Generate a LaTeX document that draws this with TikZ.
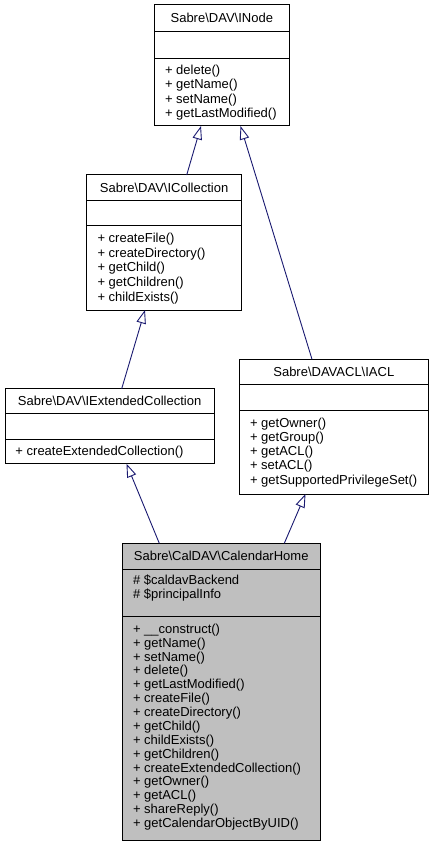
\documentclass[tikz,border=0pt]{standalone}
\usepackage{fontspec}
\setmainfont{Liberation Sans}
\usetikzlibrary{arrows.meta}
\definecolor{edgeblue}{HTML}{191970}
\definecolor{mainfill}{HTML}{BFBFBF}
\newcommand\boxlines[5]{% prefix, x, y0, step, list
  \foreach \t [count=\i from 0] in {#5} {
    \node[txt, anchor=base west] (#1\i) at (#2, #3+\i*#4) {\t};
  }}
\begin{document}
\begin{tikzpicture}[x=1pt,y=-1pt,
  box/.style={draw=black,line width=1pt,rectangle,inner sep=0pt,outer sep=0pt,anchor=north west},
  txt/.style={inner sep=0pt,outer sep=0pt,font=\fontsize{13}{14}\selectfont},
  sepline/.style={draw=black,line width=1pt},
  inh/.style={draw=edgeblue,line width=0.9pt,-{Triangle[open,length=13.5pt,width=9.5pt]}}]
\useasboundingbox (0,0) rectangle (434,845);

% INode
\node[box, minimum width=135pt, minimum height=121pt] (inode) at (154.3,5) {};
\draw[sepline] (inode.west |- 0,31.7) -- (inode.east |- 0,31.7);
\draw[sepline] (inode.west |- 0,58.3) -- (inode.east |- 0,58.3);
\node[txt, anchor=base] (inodet) at (221.8,22.7) {Sabre\textbackslash DAV\textbackslash INode};
\boxlines{inodeop}{165}{74.3}{14.4}{+ delete(), + getName(), + setName(), + getLastModified()}

% ICollection
\node[box, minimum width=154.8pt, minimum height=135pt] (icoll) at (86.7,175) {};
\draw[sepline] (icoll.west |- 0,200.7) -- (icoll.east |- 0,200.7);
\draw[sepline] (icoll.west |- 0,225.7) -- (icoll.east |- 0,225.7);
\node[txt, anchor=base] (icollt) at (164.1,192) {Sabre\textbackslash DAV\textbackslash ICollection};
\boxlines{icollop}{97.5}{242.6}{14.6}{+ createFile(), + createDirectory(), + getChild(), + getChildren(), + childExists()}

% IExtendedCollection
\node[box, minimum width=209.3pt, minimum height=75pt] (iext) at (5,388.7) {};
\draw[sepline] (iext.west |- 0,413.3) -- (iext.east |- 0,413.3);
\draw[sepline] (iext.west |- 0,439.3) -- (iext.east |- 0,439.3);
\node[txt, anchor=base] (iextt) at (109.6,405.3) {Sabre\textbackslash DAV\textbackslash IExtendedCollection};
\boxlines{iextop}{15.5}{455}{14}{+ createExtendedCollection()}

% IACL
\node[box, minimum width=189pt, minimum height=134.7pt] (iacl) at (239.3,359.3) {};
\draw[sepline] (iacl.west |- 0,384.3) -- (iacl.east |- 0,384.3);
\draw[sepline] (iacl.west |- 0,410) -- (iacl.east |- 0,410);
\node[txt, anchor=base] (iaclt) at (333.8,376) {Sabre\textbackslash DAVACL\textbackslash IACL};
\boxlines{iaclop}{250}{427}{14.3}{+ getOwner(), + getGroup(), + getACL(), + setACL(), + getSupportedPrivilegeSet()}

% CalendarHome
\node[box, fill=mainfill, minimum width=197.7pt, minimum height=296.7pt] (cal) at (122.3,543.3) {};
\draw[sepline] (cal.west |- 0,569.3) -- (cal.east |- 0,569.3);
\draw[sepline] (cal.west |- 0,616) -- (cal.east |- 0,616);
\node[txt, anchor=base] (calt) at (221.2,560.6) {Sabre\textbackslash CalDAV\textbackslash CalendarHome};
\boxlines{calat}{133}{584.3}{14}{\# \$caldavBackend, \# \$principalInfo}
\boxlines{calop}{133}{633.3}{13.88}{+ \_\_construct(), + getName(), + setName(), + delete(), + getLastModified(), + createFile(), + createDirectory(), + getChild(), + childExists(), + getChildren(), + createExtendedCollection(), + getOwner(), + getACL(), + shareReply(), + getCalendarObjectByUID()}

% edge end points
\coordinate (e1s) at (186.7,175);   \coordinate (e1t) at (201,126);
\coordinate (e2s) at (312,359.3);   \coordinate (e2t) at (240.5,126);
\coordinate (e3s) at (121.7,388.7); \coordinate (e3t) at (145,310);
\coordinate (e4s) at (159.3,543.3); \coordinate (e4t) at (126.5,463.7);
\coordinate (e5s) at (284.3,543.3); \coordinate (e5t) at (305.5,494);
\draw[inh] (e1s) -- (e1t);
\draw[inh] (e2s) -- (e2t);
\draw[inh] (e3s) -- (e3t);
\draw[inh] (e4s) -- (e4t);
\draw[inh] (e5s) -- (e5t);
\end{tikzpicture}
\end{document}
